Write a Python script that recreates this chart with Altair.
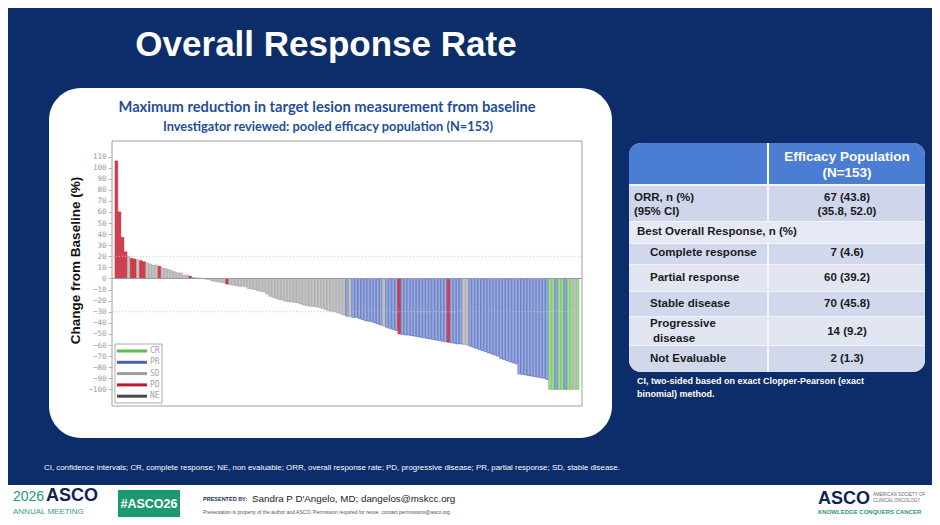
import pandas as pd
import altair as alt

# best % change from baseline per patient, in the slide's sorted order
change = [
    106, 60, 37, 24, 20, 18, 17.5, 16.5, 16, 15,
    14, 13, 12, 12, 11, 9.5, 9, 8, 7, 6,
    5, 5, 3, 3, 2, 1, 0.5, 0.3, 0, -0.5,
    -1, -2, -2.5, -3, -3.5, -4, -5, -5.5, -6, -6.5,
    -7, -7, -7.5, -9, -9.5, -10, -11, -11.5, -12, -14,
    -16, -17, -18, -19, -19.5, -20.5, -21, -21, -21.5, -22,
    -23, -24, -24.5, -25, -25, -25.5, -26, -27, -28, -29,
    -29.5, -30, -31, -32, -33, -34, -34.5, -35, -35, -36,
    -37, -38, -38.5, -39, -40, -41, -42, -43, -44, -45,
    -46, -47, -50, -50.5, -51, -51, -51.5, -52, -52.5, -53,
    -53.5, -54, -54.5, -55, -55.5, -56, -56.5, -57, -57.5, -58,
    -58.5, -59, -59, -59.5, -60, -61, -62, -63, -64, -65,
    -66, -67, -68, -69, -70, -72, -73, -74, -75, -76,
    -77, -86, -86.5, -87, -87.5, -88, -88.5, -89, -89.5, -90,
    -91, -100, -100, -100, -100, -100, -100, -100, -100, -100, -100,
]
# best overall response per bar (C=CR, R=PR, S=SD, D=PD)
response = (
    "DDDDSDDSDD" "SSSSDSSSSS" "SSSSDSSSSS" "SSSSSSDSSS" "SSSSSSSSSS"
    "SSSSSSSSSS" "SSSSSSSSSS" "SSSSSRSRRR" "RRRRRRRSRR" "RRDRRRRRRR"
    "RRRRRRRRDR" "RRRSSRRRRR" "RRRRRRRRRR" "RRRRRRRRRR" "RCCRCCRCCSC"
)
codes = {"C": "CR", "R": "PR", "S": "SD", "D": "PD"}
resp_order = ["CR", "PR", "SD", "PD", "NE"]
ref_lines = [20, -30]
y_ticks = list(range(-100, 111, 10))

# table on the right
row_labels = ["Complete response", "Partial response", "Stable disease", "Progressive", "Not Evaluable"]
row_values = ["7 (4.6)", "60 (39.2)", "70 (45.8)", "14 (9.2)", "2 (1.3)"]

NAVY = "#0c2c6a"
SANS = "Liberation Sans"
OX, OY = 112, 141          # page position of the plot corner
W, H = 470, 265
one = pd.DataFrame({"k": [0]})


def txt(s, px, py, size, color="white", weight="normal", align="left", font=SANS):
    return alt.Chart(one).mark_text(
        text=s, fontSize=size, color=color, fontWeight=weight, align=align,
        baseline="middle", font=font,
    ).encode(x=alt.value(px - OX), y=alt.value(py - OY))


def box(x0, y0, x1, y1, fill, **kw):
    return alt.Chart(one).mark_rect(fill=fill, **kw).encode(
        x=alt.value(x0 - OX), x2=alt.value(x1 - OX),
        y=alt.value(y0 - OY), y2=alt.value(y1 - OY),
    )


df = pd.DataFrame({
    "idx": range(len(change)),
    "change": change,
    "resp": [codes[c] for c in response],
})

fill_scale = alt.Scale(domain=resp_order, range=["#a6da9c", "#9aace0", "#c6c6c6", "#d2404f", "#6a6a6a"])
line_scale = alt.Scale(domain=resp_order, range=["#62b852", "#4862b4", "#9c9c9c", "#b81c2e", "#4a4a4a"])

y_axis = alt.Axis(
    values=y_ticks, format="d", domain=False, grid=False, zindex=1,
    labelOverlap=False, tickSize=4, tickColor="#b5b5b5", labelColor="#9a9a9a",
    labelFont="DejaVu Sans Mono", labelFontSize=7.5, labelPadding=2,
    title="Change from Baseline (%)", titleFont=SANS, titleFontSize=13.5,
    titleFontWeight="bold", titleColor="#111111", titleX=-30, titleY=119,
)

bars = alt.Chart(df).mark_bar(strokeWidth=0.6).encode(
    x=alt.X("idx:O", axis=None, scale=alt.Scale(paddingInner=0.15, paddingOuter=1.0)),
    y=alt.Y("change:Q", scale=alt.Scale(domain=[-115, 124], nice=False), axis=y_axis),
    fill=alt.Fill("resp:N", scale=fill_scale, legend=None),
    stroke=alt.Stroke("resp:N", scale=line_scale, legend=None),
)

refs = alt.Chart(pd.DataFrame({"v": ref_lines})).mark_rule(
    color="#c4c4c4", strokeDash=[1, 2]
).encode(y=alt.Y("v:Q", axis=y_axis))
zero = alt.Chart(pd.DataFrame({"v": [0]})).mark_rule(color="#9a9a9a").encode(
    y=alt.Y("v:Q", axis=y_axis)
)
frame = box(OX, OY, OX + W, OY + H, "white", fillOpacity=0, stroke="#a0a0a0", strokeWidth=1)

# legend drawn inside the plot, bottom left
leg_df = pd.DataFrame({"resp": resp_order, "row": range(len(resp_order))})
leg_box = box(115, 344, 162, 403, "white", stroke="#ababab", strokeWidth=1)
leg_lines = alt.Chart(leg_df).transform_calculate(ly="210 + 11.3 * datum.row").mark_rule(
    strokeWidth=3
).encode(
    x=alt.value(5), x2=alt.value(35),
    y=alt.Y("ly:Q", scale=None, axis=None),
    stroke=alt.Stroke("resp:N", scale=line_scale, legend=None),
)
leg_text = alt.Chart(leg_df).transform_calculate(ly="210 + 11.3 * datum.row").mark_text(
    align="left", baseline="middle", font="DejaVu Sans Mono", fontSize=8, color="#a5a5a5"
).encode(x=alt.value(38), y=alt.Y("ly:Q", scale=None, axis=None), text="resp:N")

# slide decoration
white_card = box(49, 88, 612, 438, "white", cornerRadius=32)
footer = box(0, 485, 940, 540, "white")

TB = "#1a1a1a"
table = [
    box(629, 143, 925, 372, "#f3f5fa", cornerRadius=12),
    box(629, 143, 925, 184, "#4b7dd3", cornerRadiusTopLeft=12, cornerRadiusTopRight=12),
    box(767, 143, 769, 184, "#ffffff"),
]
row_spans = [(186, 221, "#cfd6eb"), (244, 264, "#d1d8ec"), (265, 291, "#e1e6f2"),
             (292, 316, "#d1d8ec"), (317, 345, "#e1e6f2"), (346, 372, "#d1d8ec")]
for i, (y0, y1, col) in enumerate(row_spans):
    last = i == len(row_spans) - 1
    kl = {"cornerRadiusBottomLeft": 12} if last else {}
    kr = {"cornerRadiusBottomRight": 12} if last else {}
    table.append(box(629, y0, 767, y1, col, **kl))
    table.append(box(769, y0, 925, y1, col, **kr))
table.append(box(629, 222, 925, 243, "#e6e9f4"))

texts = [
    txt("Overall Response Rate", 326, 45, 35, weight="bold", align="center"),
    txt("Maximum reduction in target lesion measurement from baseline", 327, 108, 14.7,
        color="#1f4e9a", weight="bold", align="center", font="Lato"),
    txt("Investigator reviewed: pooled efficacy population (N=153)", 328, 127, 12.8,
        color="#1f4e9a", weight="bold", align="center", font="Lato"),
    txt("Efficacy Population", 847, 157, 13.5, weight="bold", align="center"),
    txt("(N=153)", 847, 173, 13.5, weight="bold", align="center"),
    txt("ORR, n (%)", 634, 198, 11.5, color=TB, weight="bold"),
    txt("(95% CI)", 634, 212, 11.5, color=TB, weight="bold"),
    txt("67 (43.8)", 847, 198, 11.5, color=TB, weight="bold", align="center"),
    txt("(35.8, 52.0)", 847, 212, 11.5, color=TB, weight="bold", align="center"),
    txt("Best Overall Response, n (%)", 637, 232, 11.5, color=TB, weight="bold"),
    txt("disease", 653, 339, 11.5, color=TB, weight="bold"),
    txt("CI, two-sided based on exact Clopper-Pearson (exact", 637, 381, 9, weight="bold"),
    txt("binomial) method.", 637, 394, 9, weight="bold"),
    txt("CI, confidence intervals; CR, complete response; NE, non evaluable; ORR, overall response rate; "
        "PD, progressive disease; PR, partial response; SD, stable disease.",
        44, 468, 7.9),
    # footer
    txt("2026", 13, 497, 14, color="#1f9a70"),
    txt("ASCO", 46, 496, 18, color="#0f2452", weight="bold"),
    txt("ANNUAL MEETING", 13, 512, 8, color="#3aa07a"),
    txt("#ASCO26", 149, 504, 12.5, weight="bold", align="center"),
    txt("PRESENTED BY:", 203, 499, 5.5, color="#1c2f5c", weight="bold"),
    txt("Sandra P D'Angelo, MD; dangelos@mskcc.org", 252, 499, 9.8, color="#222222"),
    txt("Presentation is property of the author and ASCO. Permission required for reuse; "
        "contact permissions@asco.org.", 203, 512, 5, color="#555555"),
    txt("ASCO", 818, 499, 18, color="#0f2452", weight="bold"),
    txt("AMERICAN SOCIETY OF", 873, 495, 4.5, color="#666666"),
    txt("CLINICAL ONCOLOGY", 873, 501, 4.5, color="#666666"),
    txt("KNOWLEDGE CONQUERS CANCER", 818, 512, 6, color="#2a9a70", weight="bold"),
]
row_y = [253, 278, 304, 324, 359]
val_y = [253, 278, 304, 332, 359]
for lab, val, ly, vy in zip(row_labels, row_values, row_y, val_y):
    texts.append(txt(lab, 650, ly, 11.5, color=TB, weight="bold"))
    texts.append(txt(val, 847, vy, 11.5, color=TB, weight="bold", align="center"))

hashtag = box(118, 490, 180, 518, "#1c9a6e")

chart = alt.layer(
    white_card, footer, *table, hashtag,
    bars, zero, refs, frame, leg_box, leg_lines, leg_text, *texts,
).properties(
    width=W, height=H,
    padding={"left": OX - 8, "top": OY - 8, "right": 924 - (OX - 8) - W, "bottom": 509 - (OY - 8) - H},
    autosize=alt.AutoSizeParams(type="none"),
    background=NAVY,
).configure_view(strokeWidth=0).configure_axisY(labelOverlap=False)

chart.save("out.html", embed_options={"renderer": "svg", "actions": False})
